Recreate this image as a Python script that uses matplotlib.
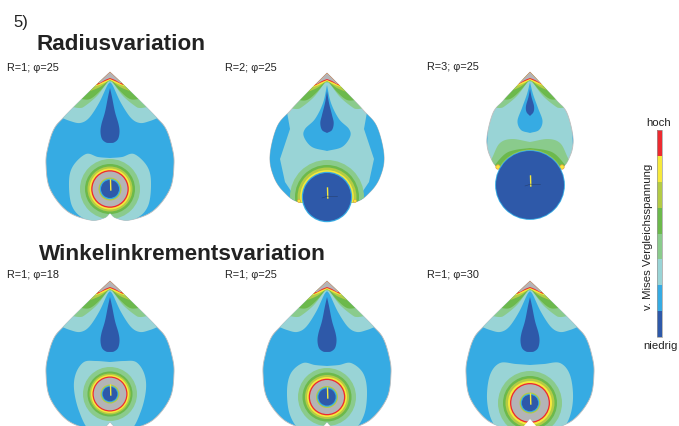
import numpy as np
import matplotlib
matplotlib.use("Agg")
import matplotlib.pyplot as plt
from matplotlib.patches import Polygon, Circle, Rectangle

plt.rcParams['font.family'] = ['Liberation Sans', 'DejaVu Sans']

RED, YEL, OLV, GRN, LGR, TEAL, BLUE, DARK = '#ED2A30', '#F6E93C', '#B3CB45', '#6CB94C', '#8ACB8C', '#99D4D6', '#36ABE3', '#2E59A9'
GRAY = '#B4B4B6'

# text
section_titles = ["Radiusvariation", "Winkelinkrementsvariation"]
panel_labels = ["R=1; φ=25", "R=2; φ=25", "R=3; φ=25", "R=1; φ=18", "R=1; φ=25", "R=1; φ=30"]
scale_colors = [DARK, BLUE, TEAL, LGR, GRN, OLV, YEL, RED]
scale_steps = [1, 1, 1, 1, 1, 1, 1, 1]

# tip position of each specimen
tips_x = [110, 327, 530, 110, 327, 530]
tips_y = [73, 74, 73, 282, 282, 282]

# half outlines (dx, dy from tip)
outline_r1 = [(0, 0), (-23, 22), (-46, 45), (-56, 57), (-62, 75), (-64, 92), (-60, 117), (-43, 139), (-20, 148), (-6, 146), (0, 141)]
outline_r2 = [(0, 0), (-19, 19), (-37, 38), (-50, 54), (-57, 83), (-53, 104), (-43, 119), (-28, 129), (0, 129)]
outline_r3 = [(0, 0), (-14, 15), (-27, 29), (-37, 41), (-43, 66), (-40, 84), (-29, 97), (0, 97)]

# stress fans at the tip, outer to inner
fan_teal = [(-50, 45), (-40, 49), (-30, 51), (-21, 46), (-11, 31), (-3, 14), (0, 10)]
fan_lgr = [(-38, 35), (-30, 36), (-25, 34), (-13, 24), (-3, 11), (0, 9.5)]
fan_grn = [(-30, 27), (-20, 27), (-10, 19), (-2, 9.5), (0, 9)]
fan_olv = [(-22, 20), (-10, 15), (-2, 9), (0, 8.5)]
fan_yel = [(-17, 15), (-8, 12), (0, 8)]
fan_red = [(-13, 13), (-6, 9.5), (0, 7)]
fan_gry = [(-10, 11), (-5, 8), (0, 6)]

# teardrops
drop_r1 = [(0, 16), (2, 25), (5, 40), (8.5, 52), (9.5, 60), (8, 67), (4, 70.5), (0, 71)]
drop_r2_outer = [(0, 12), (4, 30), (12, 46), (22, 56), (23, 64), (15, 74), (0, 78)]
drop_r2_inner = [(0, 18), (2, 30), (5, 42), (6.7, 50), (5, 57), (0, 60)]
drop_r3_outer = [(0, 10), (3, 22), (8, 36), (12.5, 49), (9, 58), (0, 61)]
drop_r3_inner = [(0, 17), (1.5, 25), (4, 34), (3.5, 40), (0, 44)]

# teal blobs around the hole
blob_p1 = [(0, 86), (12, 85), (24, 82), (37, 94), (41, 110), (38, 134), (25, 147), (0, 152)]
blob_p4 = [(0, 81), (14, 80), (26, 81), (34, 92), (36, 108), (31, 130), (20, 150), (0, 155)]
blob_p5 = [(0, 85), (12, 84), (24, 82), (36, 92), (40, 110), (37, 134), (25, 150), (0, 155)]
blob_p6 = [(0, 84), (14, 83), (30, 82), (40, 94), (43, 118), (38, 140), (25, 155), (0, 158)]
blob_r3 = [(0, 70), (18, 67), (30, 71), (37, 84), (43, 100), (30, 110), (0, 110)]
blob_r3_green = [(0, 76), (15, 78), (25, 82), (35, 93), (38, 100), (20, 110), (0, 110)]

# concentric rings around the hole
ring_center_dy = [117, 124, 113, 113, 116, 122]
radii_p1 = [30, 25, 22.5, 20.5, 18.8, 17.5, 11.5, 10.2, 9]
radii_p4 = [27, 22.5, 20.5, 19, 17.5, 16.3, 9.5, 8.3, 7.3]
radii_p5 = [29, 24.5, 22, 20, 18.3, 17, 11, 9.8, 8.6]
radii_p6 = [32, 27, 24.5, 22, 20, 18.7, 10.5, 9.3, 8.2]
ring_colors_small = [LGR, GRN, OLV, YEL, RED, GRAY, OLV, BLUE, DARK]
radii_r2 = [37, 32, 29.5, 26.8, 25.2, 24]
ring_colors_r2 = [LGR, GRN, OLV, YEL, BLUE, DARK]
radii_r3 = [35.4, 34.9, 34]
ring_colors_r3 = [OLV, BLUE, DARK]

# blue side zones of the R=2 and R=3 specimens
side_r2 = [(-40, 39), (-37, 56), (-47, 86), (-42, 109), (-28, 130), (-75, 130), (-75, 39)]
side_r3 = [(-43.5, 50), (-42.5, 66), (-43.5, 82), (-60, 82), (-60, 50)]


def spline(pts, n=14):
    p = np.array(pts, float)
    q = np.vstack([2 * p[0] - p[1], p, 2 * p[-1] - p[-2]])
    out = [p[0]]
    for i in range(1, len(q) - 2):
        for t in np.linspace(0, 1, n + 1)[1:]:
            out.append(0.5 * (2 * q[i] + (q[i + 1] - q[i - 1]) * t
                              + (2 * q[i - 1] - 5 * q[i] + 4 * q[i + 1] - q[i + 2]) * t ** 2
                              + (3 * q[i] - q[i - 1] - 3 * q[i + 1] + q[i + 2]) * t ** 3))
    return np.array(out)


def both_sides(half):
    s = spline(half)
    left = s.copy()
    left[:, 0] = -np.abs(left[:, 0])
    right = left[::-1].copy()
    right[:, 0] *= -1
    return np.vstack([left, right])


fig = plt.figure(figsize=(6.79, 4.27), dpi=100)
ax = fig.add_axes([0, 0, 1, 1])
ax.set_xlim(0, 679)
ax.set_ylim(427, 0)
ax.axis('off')


def add(poly, color, tip, clip=None, z=2):
    p = Polygon(poly + np.array(tip), closed=True, fc=color, ec='none', zorder=z)
    ax.add_patch(p)
    if clip is not None:
        p.set_clip_path(clip)
    return p


def ring(center, r, color, clip, z=3):
    c = Circle(center, r, fc=color, ec='none', zorder=z)
    ax.add_patch(c)
    if clip is not None:
        c.set_clip_path(clip)


def specimen(i, outline, base, drops, blobs, radii, colors, fans, sides=None, ring_on_top=False):
    tip = (tips_x[i], tips_y[i])
    shape = both_sides(outline)
    heart = add(shape, base, tip)
    heart.set_edgecolor('#BDBDBD')
    heart.set_linewidth(0.6)
    if sides is not None:
        for sgn in (1, -1):
            add(np.array(sides) * [sgn, 1], BLUE, tip, heart)
    for half, col in drops:
        add(both_sides(half), col, tip, heart)
    for half, col in blobs:
        add(both_sides(half), col, tip, heart)
    for half, col in fans:
        curve = spline(half)
        poly = np.vstack([[(0, 0)], [(-80, 0)], [curve[0] + (-30, 0)], curve])
        for sgn in (1, -1):
            add(poly * [sgn, 1], col, tip, heart)
    cy = tip[1] + ring_center_dy[i]
    for r, col in zip(radii, colors):
        is_hole = ring_on_top and col in (DARK, BLUE)
        ring((tip[0], cy), r, col, None if is_hole else heart, 5 if is_hole else 3)
    # needle and coordinate marks in the hole
    ax.plot([tip[0] + 0.5, tip[0] + 0.8], [cy - 9, cy + 1], color=YEL, lw=1.0, zorder=6)
    if ring_on_top:
        ax.plot([tip[0] + 1, tip[0] + 10], [cy - 1, cy - 1], color='#27406F', lw=0.4, zorder=6)
        ax.plot([tip[0] - 5, tip[0] + 1], [cy + 1, cy - 1], color='#27406F', lw=0.4, zorder=6)


fans_all = [(fan_teal, TEAL), (fan_lgr, LGR), (fan_grn, GRN), (fan_olv, OLV), (fan_yel, YEL), (fan_red, RED), (fan_gry, GRAY)]
fans_no_teal = fans_all[1:]

specimen(0, outline_r1, BLUE, [(drop_r1, DARK)], [(blob_p1, TEAL)], radii_p1, ring_colors_small, fans_all)
specimen(1, outline_r2, TEAL, [(drop_r2_outer, BLUE), (drop_r2_inner, DARK)], [], radii_r2, ring_colors_r2, fans_no_teal, side_r2, True)
specimen(2, outline_r3, TEAL, [(drop_r3_outer, BLUE), (drop_r3_inner, DARK)], [(blob_r3, LGR), (blob_r3_green, GRN)], radii_r3, ring_colors_r3, fans_no_teal, side_r3, True)
specimen(3, outline_r1, BLUE, [(drop_r1, DARK)], [(blob_p4, TEAL)], radii_p4, ring_colors_small, fans_all)
specimen(4, outline_r1, BLUE, [(drop_r1, DARK)], [(blob_p5, TEAL)], radii_p5, ring_colors_small, fans_all)
specimen(5, outline_r1, BLUE, [(drop_r1, DARK)], [(blob_p6, TEAL)], radii_p6, ring_colors_small, fans_all)

# notch of the phi=30 specimen and yellow stress spots of R=2, R=3
ax.add_patch(Polygon([(530, 420), (523, 428), (537, 428)], fc='white', ec='none', zorder=7))
for sgn in (1, -1):
    ax.add_patch(Circle((530 + sgn * 32, 73 + 95), 2.2, fc=YEL, ec='#E89A3C', lw=0.5, zorder=4))
    ax.add_patch(Circle((327 + sgn * 28, 74 + 128), 1.5, fc=YEL, ec='#E89A3C', lw=0.4, zorder=4))

# text
ax.text(13, 22, "5)", fontsize=12, color='#222222', va='center', ha='left')
ax.text(37, 45, section_titles[0], fontsize=16.2, fontweight='bold', color='#222222', va='center', ha='left')
ax.text(39, 254, section_titles[1], fontsize=16.2, fontweight='bold', color='#222222', va='center', ha='left')
label_x = [7, 225, 427, 7, 225, 427]
label_y = [68, 68, 67, 275, 275, 275]
for x, y, s in zip(label_x, label_y, panel_labels):
    ax.text(x, y, s, fontsize=7.8, color='#222222', va='center', ha='left')

# stress scale
y_edges = np.linspace(338, 131, len(scale_steps) + 1)
for k, col in enumerate(scale_colors):
    ax.bar(659.5, y_edges[k + 1] - y_edges[k], width=5, bottom=y_edges[k], color=col, linewidth=0, zorder=3)
ax.add_patch(Rectangle((657, 131), 5, 207, fc='none', ec='#9A9A9A', lw=0.5, zorder=4))
ax.text(658.5, 123, "hoch", fontsize=8.2, color='#222222', ha='center', va='center')
ax.text(660, 346, "niedrig", fontsize=8.2, color='#222222', ha='center', va='center')
ax.text(648, 237, "v. Mises Vergleichsspannung", fontsize=8.2, rotation=90, color='#222222', ha='center', va='center')

fig.savefig("out.png", dpi=100)
